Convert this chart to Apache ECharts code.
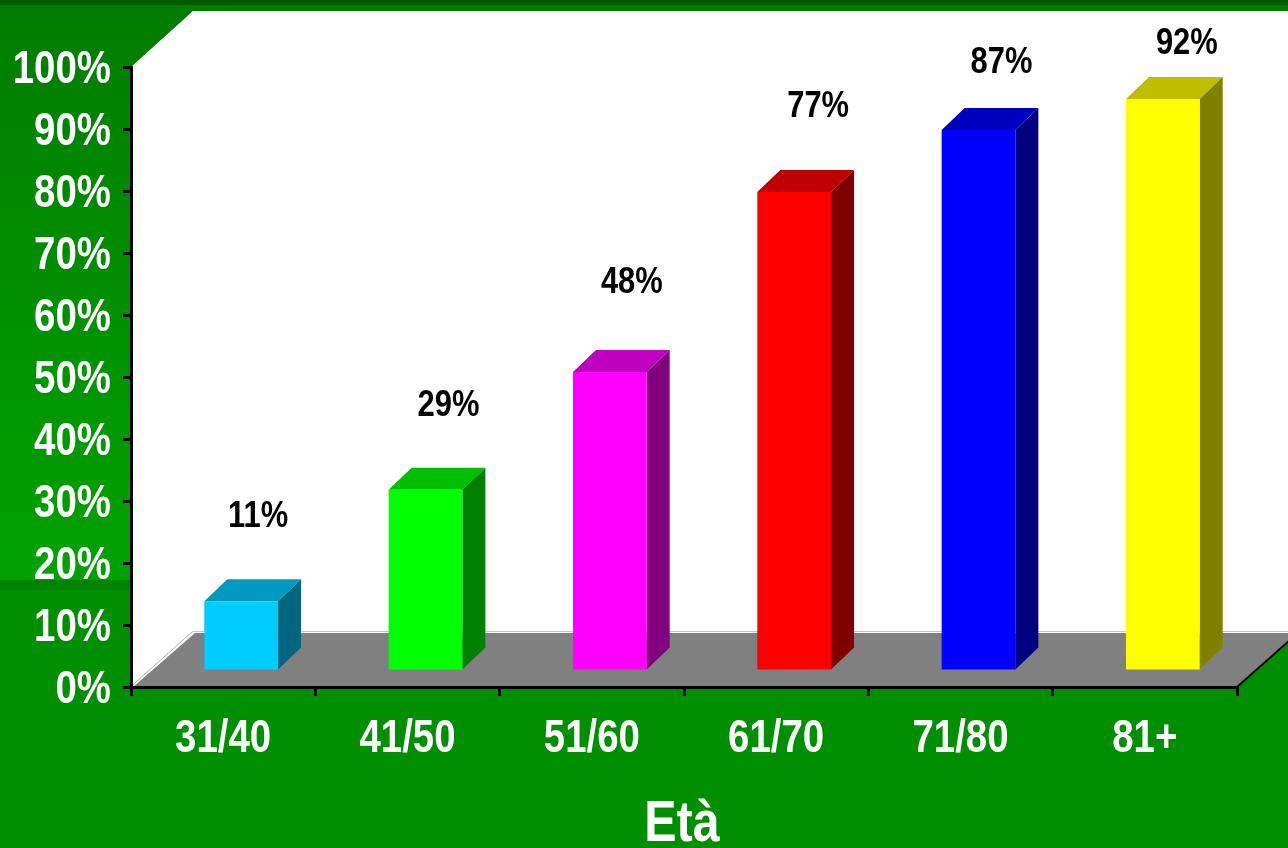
<!DOCTYPE html>
<html><head><meta charset="utf-8">
<style>html,body{margin:0;padding:0;background:#008f00}#c{width:1288px;height:848px}</style>
<script src="https://cdn.jsdelivr.net/npm/echarts@6/dist/echarts.min.js"></script>
</head><body><div id="c"></div>
<script>
const categories = ['31/40','41/50','51/60','61/70','71/80','81+'];
const values = [11,29,48,77,87,92];
const yTicks = [0,10,20,30,40,50,60,70,80,90,100];
const barColors = [[0,204,255],[0,255,0],[255,0,255],[255,0,0],[0,0,255],[255,255,0]];
const labelShiftX = [35,41,40,42,41,42];
const labelLift = [85,84,89,85,67,55];
const axisTitle = 'Età';

const FONT = '"Liberation Sans",Arial,sans-serif';
const SQUEEZE = 0.835;
const WALL_DX = 62, WALL_DY = 55, BAR_DX = 23, BAR_DY = 22, BASE_DX = 18, BASE_DY = 17.5;
const shade = (c,f) => 'rgb(' + c.map(v => Math.round(v*f)).join(',') + ')';
const poly = (points, fill, z2) => ({type:'polygon', shape:{points}, style:{fill}, z2: z2||0});
const txt = (text, x, y, size, fill, align) => ({type:'text', x, y, scaleX:SQUEEZE,
  style:{text, x:0, y:0, align:align||'center', verticalAlign:'middle', fill, font:'bold '+size+'px '+FONT}});

function renderRoom(params, api){
  const cs = params.coordSys;
  const x0 = cs.x, x1 = cs.x + cs.width, y0 = cs.y + cs.height, yT = cs.y;
  const bx = x0 + WALL_DX, by = y0 - WALL_DY, ty = yT - 56;
  return {type:'group', children:[
    poly([[x0,yT],[bx,ty],[x1+WALL_DX+20,ty],[x1+WALL_DX+20,by+2],[bx+4,by+2],[x0+4,y0],[x0,y0]], '#ffffff'),
    poly([[x0+2,y0],[bx+2,by+1],[x1+WALL_DX,by+1],[x1,y0]], '#808080', 1),
    {type:'line', shape:{x1:bx,y1:by-0.5,x2:x1+WALL_DX,y2:by-0.5}, style:{stroke:'#c4c4c4',lineWidth:1.2}, z2:1},
    {type:'line', shape:{x1:x0+0.5,y1:y0-1,x2:bx-0.5,y2:by-0.5}, style:{stroke:'#a8b4a8',lineWidth:1}, z2:1},
    {type:'line', shape:{x1:x1,y1:y0,x2:x1+WALL_DX,y2:by}, style:{stroke:'#000000',lineWidth:2}, z2:2}
  ]};
}
function renderBar(params, api){
  const i = params.dataIndex;
  const top = api.coord([api.value(0), api.value(1)]);
  const base = api.coord([api.value(0), 0]);
  const w = api.size([1,0])[0] * 0.4;
  const l = top[0] - w/2 + BASE_DX, r = l + w;
  const t = top[1] - BASE_DY, b = base[1] - BASE_DY;
  const c = barColors[i];
  return {type:'group', children:[
    poly([[l,t],[l+BAR_DX,t-BAR_DY],[r+BAR_DX,t-BAR_DY],[r,t]], shade(c,0.75)),
    poly([[r,t],[r+BAR_DX,t-BAR_DY],[r+BAR_DX,b-BAR_DY],[r,b]], shade(c,0.5)),
    {type:'rect', shape:{x:l,y:t,width:w,height:b-t}, style:{fill:shade(c,1)}},
    txt(api.value(1)+'%', top[0]+labelShiftX[i], t-labelLift[i], 37, '#000')
  ]};
}
function renderXLabel(params, api){
  const p = api.coord([api.value(0), 0]);
  return txt(categories[params.dataIndex], p[0], p[1]+52, 46, '#fff');
}
function renderYLabel(params, api){
  const p = api.coord([0, api.value(1)]);
  const cs = params.coordSys;
  return txt(api.value(1)+'%', cs.x-20, p[1]+3, 46, '#fff', 'right');
}
function renderTitle(params, api){
  const cs = params.coordSys;
  return txt(axisTitle, cs.x+cs.width/2-2, cs.y+cs.height+138, 58, '#fff');
}
const chart = echarts.init(document.getElementById('c'), null, {renderer:'canvas'});
chart.setOption({
  animation:false,
  graphic:{elements:[
    {type:'rect', z:-100, silent:true, shape:{x:0,y:0,width:1288,height:580},
      style:{fill:{type:'linear',x:0,y:0,x2:0,y2:1,colorStops:[{offset:0,color:'#007c00'},{offset:1,color:'#00a200'}]}}},
    {type:'rect', z:-100, silent:true, shape:{x:0,y:580,width:1288,height:10}, style:{fill:'#008300'}},
    {type:'rect', z:-100, silent:true, shape:{x:0,y:590,width:1288,height:258}, style:{fill:'#008f00'}},
    {type:'rect', z:-100, silent:true, shape:{x:0,y:0,width:1288,height:5}, style:{fill:'#005a00'}}
  ]},
  grid:{left:131,right:51,top:67,bottom:161,containLabel:false,outerBoundsMode:'none'},
  xAxis:{type:'category', data:categories, z:10,
    axisLine:{show:true,lineStyle:{color:'#000',width:3}},
    axisTick:{show:true,alignWithLabel:false,length:9,lineStyle:{color:'#000',width:3}},
    axisLabel:{show:false},
    splitLine:{show:false}},
  yAxis:{type:'value',min:0,max:100,interval:10,z:10,
    axisLine:{show:true,lineStyle:{color:'#000',width:3}},
    axisTick:{show:true,length:8,lineStyle:{color:'#000',width:3}},
    axisLabel:{show:false},
    splitLine:{show:false}},
  series:[
    {type:'custom',coordinateSystem:'cartesian2d',clip:false,z:1,silent:true,renderItem:renderRoom,data:[[0,0]]},
    {type:'custom',coordinateSystem:'cartesian2d',clip:false,z:2,silent:true,renderItem:renderBar,
      encode:{x:0,y:1},data:values.map((v,i)=>[i,v])},
    {type:'custom',coordinateSystem:'cartesian2d',clip:false,z:3,silent:true,renderItem:renderXLabel,
      data:categories.map((c,i)=>[i,0])},
    {type:'custom',coordinateSystem:'cartesian2d',clip:false,z:3,silent:true,renderItem:renderYLabel,
      data:yTicks.map(v=>[0,v])},
    {type:'custom',coordinateSystem:'cartesian2d',clip:false,z:3,silent:true,renderItem:renderTitle,data:[[0,0]]}
  ]
});
</script></body></html>
